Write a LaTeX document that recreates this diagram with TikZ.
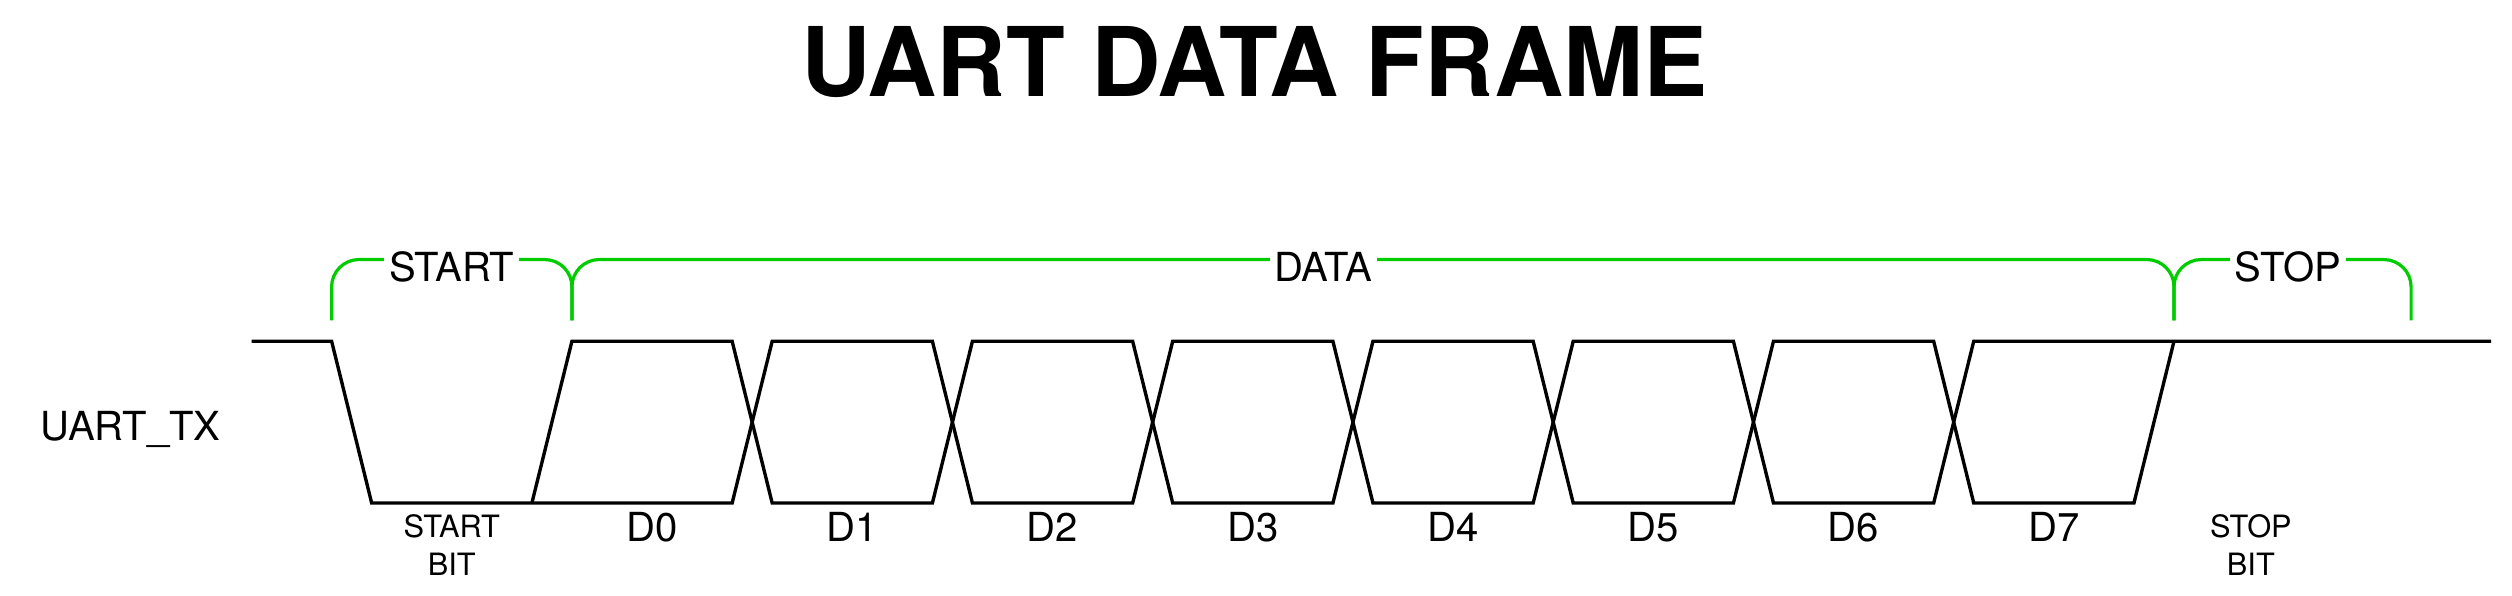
\documentclass[tikz,border=0pt]{standalone}
\usepackage{fontspec}
\setmainfont{TeX Gyre Heros}
\usepackage{tikz}
\definecolor{FrameGreen}{RGB}{0,204,0}

\begin{document}
\begin{tikzpicture}[x=0.5pt,y=-0.5pt,
    wave/.style={line width=1.05pt},
    brace/.style={FrameGreen,line width=1pt,rounded corners=8.5pt},
    bracelbl/.style={fill=white,inner xsep=1.5pt,inner ysep=3pt,text height=9pt,text depth=0pt,font=\fontsize{12.5}{14}\selectfont},
    bitlbl/.style={text height=9pt,text depth=0pt,font=\fontsize{12.5}{14}\selectfont},
    smalllbl/.style={align=center,inner sep=0pt,anchor=north,font=\fontsize{9.6}{11.7}\selectfont}]
  \useasboundingbox (0,0) rectangle (1568,372);
  \node[text height=21.5pt,text depth=0pt,font=\bfseries\fontsize{30}{34}\selectfont] (title) at (783,38.5) {UART DATA FRAME};
  \node[bitlbl] (tx) at (81.5,266) {UART\_TX};
  % signal: two traces crossing at every data bit edge
  \draw[wave] (157,213) -- (207,213) -- (232,314)
    \foreach \i/\ya/\yb in {0/314/213,1/213/314,2/314/213,3/213/314,4/314/213,5/213/314,6/314/213} { -- (457+125*\i,\ya) -- (482+125*\i,\yb) } -- (1555,213);
  \draw[wave] (332,314) -- (357,213)
    \foreach \i/\ya/\yb in {0/213/314,1/314/213,2/213/314,3/314/213,4/213/314,5/314/213,6/213/314} { -- (457+125*\i,\ya) -- (482+125*\i,\yb) } -- (1332,314) -- (1357,213);
  \foreach \i in {0,...,7}
    \node[bitlbl] (d\i) at (407+125*\i,329) {D\i};
  \node[smalllbl] (startbit) at (282,321) {START\\BIT};
  \node[smalllbl] (stopbit) at (1405,321) {STOP\\BIT};
  % braces over the frame parts
  \coordinate (top) at (0,162);
  \foreach \n/\x in {f0/207,f1/357,f2/1357,f3/1505}
    \coordinate (\n) at (\x,200);
  \draw[brace] (f0) |- (f1 |- top) -- (f1);
  \draw[brace] (f1) |- (f2 |- top) -- (f2);
  \draw[brace] (f2) |- (f3 |- top) -- (f3);
  \node[bracelbl] (start) at (282,167) {START};
  \node[bracelbl] (data) at (826,167) {DATA};
  \node[bracelbl] (stop) at (1428,167) {STOP};
\end{tikzpicture}
\end{document}
